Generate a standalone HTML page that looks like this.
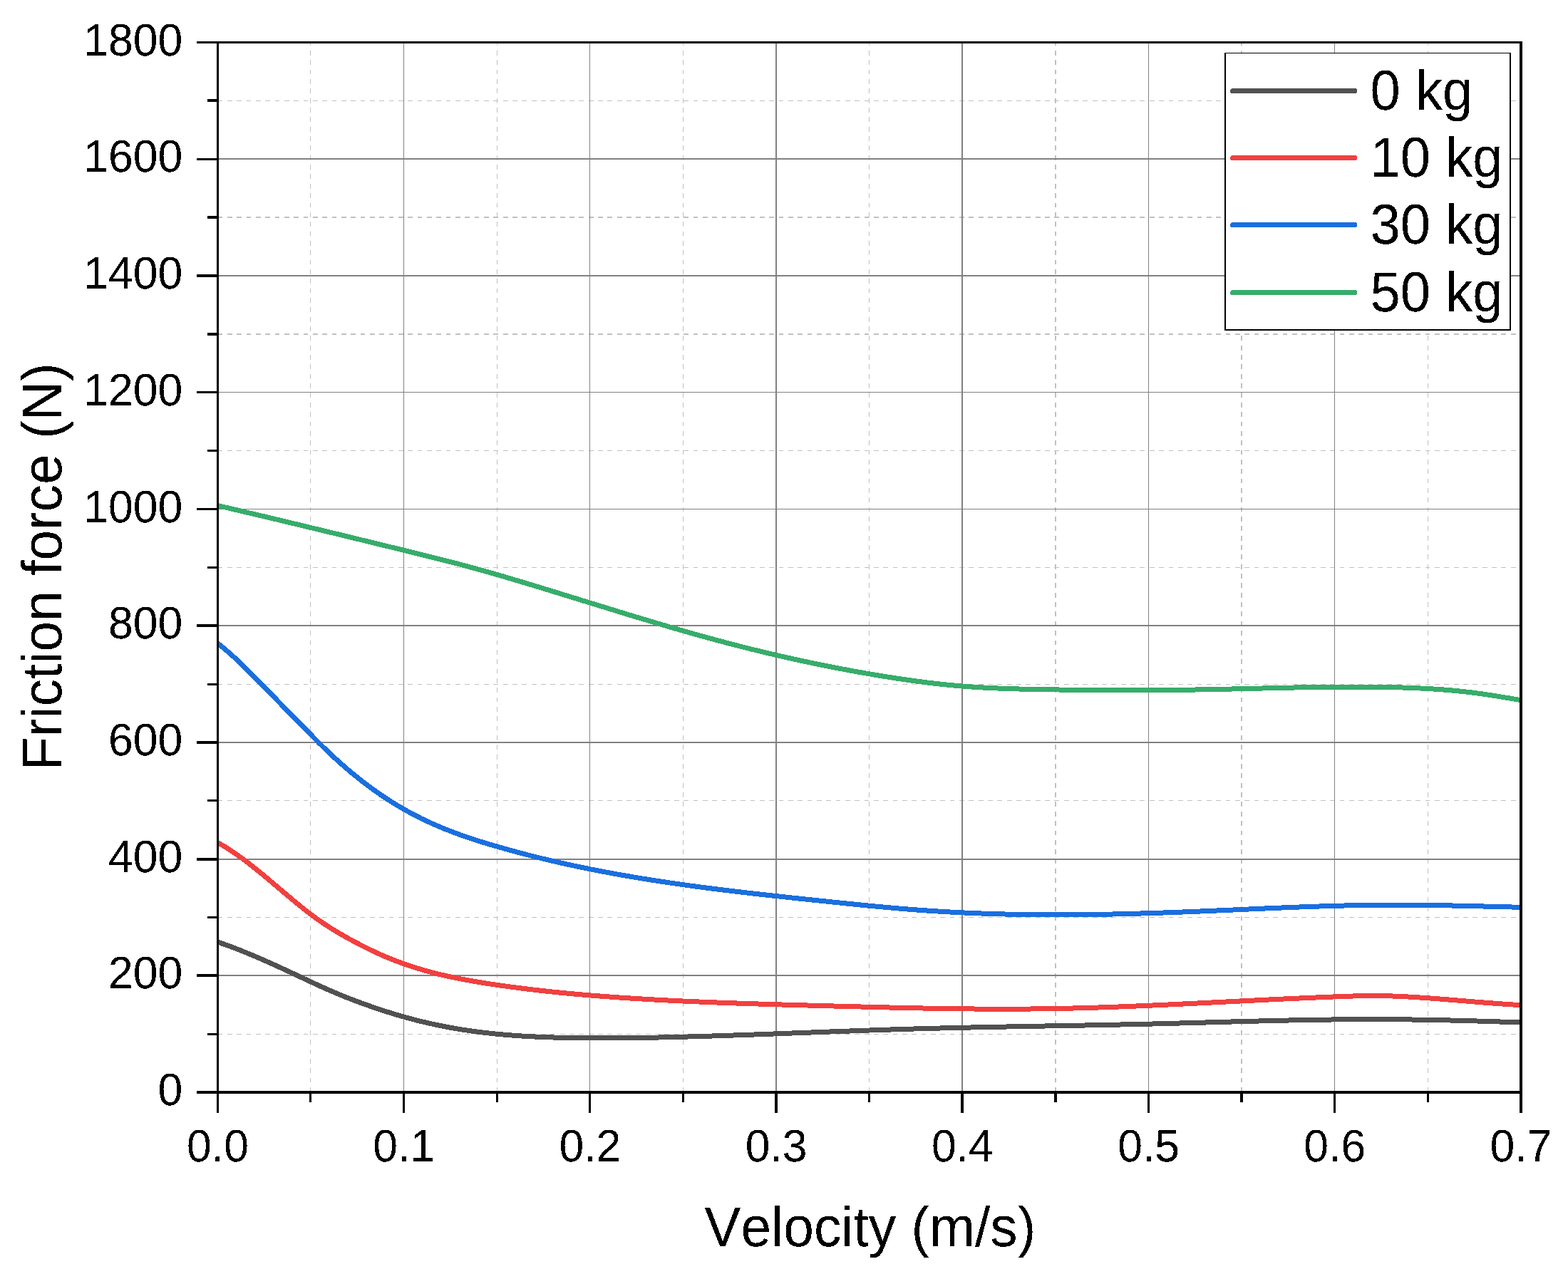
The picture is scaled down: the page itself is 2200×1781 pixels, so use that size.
<!DOCTYPE html>
<html lang="en"><head><meta charset="utf-8"><title>Friction force vs velocity</title>
<style>
html,body{margin:0;padding:0;background:#fff;}
body{width:2200px;height:1781px;}
svg{display:block;}
text{font-family:"Liberation Sans",Arial,Helvetica,sans-serif;fill:#000;font-kerning:none;font-variant-ligatures:none;text-rendering:geometricPrecision;}
.tick{font-size:62.5px;}
.title{font-size:76.8px;}
.leg{font-size:76px;}
</style></head><body>
<svg width="2200" height="1781" viewBox="0 0 2200 1781" role="img" aria-label="Friction force versus velocity for loads of 0, 10, 30 and 50 kg">
<rect x="0" y="0" width="2200" height="1781" fill="#fff"/>
<defs><clipPath id="plot"><rect x="307" y="61" width="1825" height="1470"/></clipPath><filter id="bin" x="-5%" y="-5%" width="110%" height="110%" color-interpolation-filters="sRGB"><feComponentTransfer><feFuncA type="discrete" tableValues="0 1"/></feComponentTransfer></filter></defs>
<g id="grid-minor" fill="none" stroke="#c0c0c0" stroke-dasharray="6.8 6.54" shape-rendering="crispEdges">
<line x1="435.5" y1="1532.7" x2="435.5" y2="59.5" stroke-width="1" stroke-dasharray="6.8 6.548"/>
<line x1="697.5" y1="1532.7" x2="697.5" y2="59.5" stroke-width="1" stroke-dasharray="6.8 6.548"/>
<line x1="958.5" y1="1532.7" x2="958.5" y2="59.5" stroke-width="1" stroke-dasharray="6.8 6.548"/>
<line x1="1219.5" y1="1532.7" x2="1219.5" y2="59.5" stroke-width="1" stroke-dasharray="6.8 6.548"/>
<line x1="1481.0" y1="1532.7" x2="1481.0" y2="59.5" stroke-width="2" stroke-dasharray="6.8 6.548"/>
<line x1="1742.0" y1="1532.7" x2="1742.0" y2="59.5" stroke-width="2" stroke-dasharray="6.8 6.548"/>
<line x1="2003.5" y1="1532.7" x2="2003.5" y2="59.5" stroke-width="1" stroke-dasharray="6.8 6.548"/>
<line x1="305.5" y1="1451.5" x2="2134" y2="1451.5" stroke-width="1"/>
<line x1="305.5" y1="1287.5" x2="2134" y2="1287.5" stroke-width="1"/>
<line x1="305.5" y1="1123.5" x2="2134" y2="1123.5" stroke-width="1"/>
<line x1="305.5" y1="960.5" x2="2134" y2="960.5" stroke-width="1"/>
<line x1="305.5" y1="796.5" x2="2134" y2="796.5" stroke-width="1"/>
<line x1="305.5" y1="632.5" x2="2134" y2="632.5" stroke-width="1"/>
<line x1="305.5" y1="469.0" x2="2134" y2="469.0" stroke-width="2"/>
<line x1="305.5" y1="305.0" x2="2134" y2="305.0" stroke-width="2"/>
<line x1="305.5" y1="141.5" x2="2134" y2="141.5" stroke-width="1"/>
</g>
<g id="grid-major" fill="#808080" shape-rendering="crispEdges">
<rect x="566" y="60" width="1" height="1472"/>
<rect x="827" y="60" width="1" height="1472"/>
<rect x="1088" y="60" width="2" height="1472"/>
<rect x="1349" y="60" width="2" height="1472"/>
<rect x="1611" y="60" width="1" height="1472"/>
<rect x="1872" y="60" width="1" height="1472"/>
<rect x="306" y="1368" width="1827" height="2"/>
<rect x="306" y="1205" width="1827" height="2"/>
<rect x="306" y="1041" width="1827" height="2"/>
<rect x="306" y="877" width="1827" height="2"/>
<rect x="306" y="714" width="1827" height="1"/>
<rect x="306" y="550" width="1827" height="1"/>
<rect x="306" y="386" width="1827" height="2"/>
<rect x="306" y="222" width="1827" height="2"/>
</g>
<g id="curves" fill="none" stroke-width="7" stroke-linejoin="round" stroke-linecap="butt" clip-path="url(#plot)" shape-rendering="crispEdges">
<path stroke="#515151" d="M305.50,1322.08 C310.94,1323.91 316.38,1325.84 321.83,1327.85 C327.27,1329.86 332.71,1331.95 338.15,1334.12 C343.59,1336.28 349.04,1338.52 354.48,1340.81 C359.92,1343.10 365.36,1345.45 370.80,1347.85 C376.25,1350.24 381.69,1352.68 387.13,1355.16 C392.57,1357.63 398.01,1360.14 403.46,1362.67 C408.90,1365.20 414.34,1367.74 419.78,1370.30 C425.22,1372.86 430.67,1375.42 436.11,1377.96 C441.55,1380.50 446.99,1383.01 452.43,1385.47 C457.88,1387.93 463.32,1390.34 468.76,1392.66 C474.20,1394.99 479.64,1397.22 485.08,1399.38 C490.53,1401.54 495.97,1403.62 501.41,1405.65 C506.85,1407.68 512.29,1409.65 517.74,1411.57 C523.18,1413.49 528.62,1415.35 534.06,1417.14 C539.50,1418.94 544.95,1420.68 550.39,1422.35 C555.83,1424.01 561.27,1425.62 566.71,1427.15 C572.16,1428.68 577.60,1430.14 583.04,1431.54 C588.48,1432.93 593.92,1434.26 599.37,1435.51 C604.81,1436.77 610.25,1437.96 615.69,1439.08 C621.13,1440.20 626.58,1441.26 632.02,1442.25 C637.46,1443.24 642.90,1444.16 648.34,1445.02 C653.79,1445.88 659.23,1446.68 664.67,1447.43 C670.11,1448.17 675.55,1448.86 681.00,1449.49 C686.44,1450.12 691.88,1450.70 697.32,1451.23 C702.76,1451.77 708.21,1452.25 713.65,1452.69 C719.09,1453.12 724.53,1453.52 729.97,1453.87 C735.42,1454.23 740.86,1454.54 746.30,1454.82 C751.74,1455.10 757.18,1455.34 762.62,1455.55 C768.07,1455.76 773.51,1455.94 778.95,1456.09 C784.39,1456.24 789.83,1456.37 795.28,1456.47 C800.72,1456.57 806.16,1456.65 811.60,1456.71 C817.04,1456.77 822.49,1456.81 827.93,1456.84 C833.37,1456.86 838.81,1456.88 844.25,1456.87 C849.70,1456.87 855.14,1456.86 860.58,1456.83 C866.02,1456.81 871.46,1456.77 876.91,1456.72 C882.35,1456.67 887.79,1456.60 893.23,1456.53 C898.67,1456.46 904.12,1456.37 909.56,1456.28 C915.00,1456.19 920.44,1456.08 925.88,1455.97 C931.33,1455.86 936.77,1455.74 942.21,1455.61 C947.65,1455.48 953.09,1455.34 958.54,1455.20 C963.98,1455.05 969.42,1454.90 974.86,1454.75 C980.30,1454.59 985.75,1454.43 991.19,1454.26 C996.63,1454.09 1002.07,1453.92 1007.51,1453.74 C1012.96,1453.56 1018.40,1453.38 1023.84,1453.19 C1029.28,1453.01 1034.72,1452.82 1040.17,1452.63 C1045.61,1452.44 1051.05,1452.24 1056.49,1452.05 C1061.93,1451.85 1067.38,1451.65 1072.82,1451.45 C1078.26,1451.25 1083.70,1451.05 1089.14,1450.85 C1094.58,1450.64 1100.03,1450.44 1105.47,1450.23 C1110.91,1450.03 1116.35,1449.82 1121.79,1449.61 C1127.24,1449.41 1132.68,1449.20 1138.12,1449.00 C1143.56,1448.79 1149.00,1448.59 1154.45,1448.38 C1159.89,1448.18 1165.33,1447.97 1170.77,1447.77 C1176.21,1447.57 1181.66,1447.37 1187.10,1447.17 C1192.54,1446.97 1197.98,1446.77 1203.42,1446.58 C1208.87,1446.38 1214.31,1446.19 1219.75,1446.00 C1225.19,1445.82 1230.63,1445.63 1236.08,1445.45 C1241.52,1445.27 1246.96,1445.09 1252.40,1444.91 C1257.84,1444.74 1263.29,1444.57 1268.73,1444.40 C1274.17,1444.24 1279.61,1444.08 1285.05,1443.92 C1290.50,1443.76 1295.94,1443.61 1301.38,1443.47 C1306.82,1443.32 1312.26,1443.18 1317.71,1443.04 C1323.15,1442.91 1328.59,1442.77 1334.03,1442.64 C1339.47,1442.51 1344.92,1442.39 1350.36,1442.27 C1355.80,1442.15 1361.24,1442.03 1366.68,1441.91 C1372.12,1441.80 1377.57,1441.68 1383.01,1441.57 C1388.45,1441.46 1393.89,1441.35 1399.33,1441.25 C1404.78,1441.14 1410.22,1441.04 1415.66,1440.94 C1421.10,1440.83 1426.54,1440.73 1431.99,1440.63 C1437.43,1440.53 1442.87,1440.44 1448.31,1440.34 C1453.75,1440.24 1459.20,1440.14 1464.64,1440.04 C1470.08,1439.95 1475.52,1439.85 1480.96,1439.75 C1486.41,1439.66 1491.85,1439.56 1497.29,1439.46 C1502.73,1439.36 1508.17,1439.26 1513.62,1439.16 C1519.06,1439.06 1524.50,1438.96 1529.94,1438.86 C1535.38,1438.75 1540.83,1438.65 1546.27,1438.54 C1551.71,1438.43 1557.15,1438.33 1562.59,1438.21 C1568.04,1438.10 1573.48,1437.99 1578.92,1437.87 C1584.36,1437.75 1589.80,1437.63 1595.25,1437.51 C1600.69,1437.39 1606.13,1437.26 1611.57,1437.13 C1617.01,1437.00 1622.46,1436.86 1627.90,1436.72 C1633.34,1436.59 1638.78,1436.44 1644.22,1436.30 C1649.67,1436.16 1655.11,1436.01 1660.55,1435.86 C1665.99,1435.72 1671.43,1435.57 1676.88,1435.42 C1682.32,1435.27 1687.76,1435.11 1693.20,1434.96 C1698.64,1434.81 1704.08,1434.66 1709.53,1434.51 C1714.97,1434.36 1720.41,1434.21 1725.85,1434.06 C1731.29,1433.91 1736.74,1433.76 1742.18,1433.62 C1747.62,1433.47 1753.06,1433.33 1758.50,1433.19 C1763.95,1433.05 1769.39,1432.91 1774.83,1432.78 C1780.27,1432.65 1785.71,1432.52 1791.16,1432.39 C1796.60,1432.27 1802.04,1432.15 1807.48,1432.03 C1812.92,1431.91 1818.37,1431.80 1823.81,1431.70 C1829.25,1431.60 1834.69,1431.50 1840.13,1431.41 C1845.58,1431.31 1851.02,1431.23 1856.46,1431.15 C1861.90,1431.07 1867.34,1431.00 1872.79,1430.94 C1878.23,1430.88 1883.67,1430.83 1889.11,1430.78 C1894.55,1430.74 1900.00,1430.70 1905.44,1430.68 C1910.88,1430.65 1916.32,1430.63 1921.76,1430.63 C1927.21,1430.62 1932.65,1430.63 1938.09,1430.65 C1943.53,1430.66 1948.97,1430.69 1954.42,1430.73 C1959.86,1430.77 1965.30,1430.82 1970.74,1430.88 C1976.18,1430.93 1981.62,1431.00 1987.07,1431.08 C1992.51,1431.16 1997.95,1431.25 2003.39,1431.35 C2008.83,1431.44 2014.28,1431.55 2019.72,1431.66 C2025.16,1431.78 2030.60,1431.90 2036.04,1432.03 C2041.49,1432.16 2046.93,1432.29 2052.37,1432.44 C2057.81,1432.58 2063.25,1432.73 2068.70,1432.89 C2074.14,1433.05 2079.58,1433.21 2085.02,1433.38 C2090.46,1433.55 2095.91,1433.72 2101.35,1433.90 C2106.79,1434.08 2112.23,1434.26 2117.67,1434.45 C2123.12,1434.64 2128.56,1434.84 2134.00,1435.03"/>
<path stroke="#F14040" d="M305.50,1182.55 C310.94,1185.50 316.38,1188.76 321.83,1192.28 C327.27,1195.80 332.71,1199.58 338.15,1203.55 C343.59,1207.52 349.04,1211.69 354.48,1215.99 C359.92,1220.30 365.36,1224.74 370.80,1229.26 C376.25,1233.78 381.69,1238.38 387.13,1242.99 C392.57,1247.61 398.01,1252.25 403.46,1256.84 C408.90,1261.44 414.34,1265.99 419.78,1270.43 C425.22,1274.86 430.67,1279.17 436.11,1283.28 C441.55,1287.39 446.99,1291.28 452.43,1294.96 C457.88,1298.64 463.32,1302.12 468.76,1305.45 C474.20,1308.77 479.64,1311.93 485.08,1314.97 C490.53,1318.02 495.97,1320.95 501.41,1323.80 C506.85,1326.65 512.29,1329.43 517.74,1332.10 C523.18,1334.77 528.62,1337.33 534.06,1339.76 C539.50,1342.18 544.95,1344.47 550.39,1346.64 C555.83,1348.80 561.27,1350.84 566.71,1352.76 C572.16,1354.68 577.60,1356.48 583.04,1358.18 C588.48,1359.88 593.92,1361.48 599.37,1362.98 C604.81,1364.48 610.25,1365.89 615.69,1367.21 C621.13,1368.54 626.58,1369.78 632.02,1370.96 C637.46,1372.13 642.90,1373.23 648.34,1374.28 C653.79,1375.32 659.23,1376.30 664.67,1377.24 C670.11,1378.18 675.55,1379.07 681.00,1379.92 C686.44,1380.77 691.88,1381.59 697.32,1382.38 C702.76,1383.17 708.21,1383.93 713.65,1384.67 C719.09,1385.41 724.53,1386.13 729.97,1386.82 C735.42,1387.51 740.86,1388.18 746.30,1388.83 C751.74,1389.48 757.18,1390.10 762.62,1390.70 C768.07,1391.30 773.51,1391.88 778.95,1392.44 C784.39,1393.00 789.83,1393.54 795.28,1394.05 C800.72,1394.57 806.16,1395.07 811.60,1395.55 C817.04,1396.03 822.49,1396.49 827.93,1396.94 C833.37,1397.38 838.81,1397.81 844.25,1398.23 C849.70,1398.64 855.14,1399.04 860.58,1399.42 C866.02,1399.80 871.46,1400.17 876.91,1400.53 C882.35,1400.89 887.79,1401.23 893.23,1401.56 C898.67,1401.89 904.12,1402.21 909.56,1402.52 C915.00,1402.83 920.44,1403.13 925.88,1403.42 C931.33,1403.71 936.77,1403.99 942.21,1404.26 C947.65,1404.52 953.09,1404.78 958.54,1405.04 C963.98,1405.29 969.42,1405.53 974.86,1405.76 C980.30,1406.00 985.75,1406.22 991.19,1406.44 C996.63,1406.66 1002.07,1406.88 1007.51,1407.08 C1012.96,1407.29 1018.40,1407.49 1023.84,1407.68 C1029.28,1407.87 1034.72,1408.06 1040.17,1408.24 C1045.61,1408.43 1051.05,1408.60 1056.49,1408.78 C1061.93,1408.95 1067.38,1409.12 1072.82,1409.29 C1078.26,1409.45 1083.70,1409.61 1089.14,1409.77 C1094.58,1409.93 1100.03,1410.09 1105.47,1410.24 C1110.91,1410.39 1116.35,1410.55 1121.79,1410.70 C1127.24,1410.85 1132.68,1411.00 1138.12,1411.14 C1143.56,1411.29 1149.00,1411.44 1154.45,1411.59 C1159.89,1411.74 1165.33,1411.88 1170.77,1412.03 C1176.21,1412.18 1181.66,1412.33 1187.10,1412.47 C1192.54,1412.62 1197.98,1412.76 1203.42,1412.90 C1208.87,1413.04 1214.31,1413.19 1219.75,1413.32 C1225.19,1413.46 1230.63,1413.60 1236.08,1413.73 C1241.52,1413.86 1246.96,1413.99 1252.40,1414.12 C1257.84,1414.24 1263.29,1414.37 1268.73,1414.48 C1274.17,1414.60 1279.61,1414.72 1285.05,1414.82 C1290.50,1414.93 1295.94,1415.04 1301.38,1415.13 C1306.82,1415.23 1312.26,1415.33 1317.71,1415.41 C1323.15,1415.50 1328.59,1415.58 1334.03,1415.65 C1339.47,1415.73 1344.92,1415.79 1350.36,1415.85 C1355.80,1415.91 1361.24,1415.96 1366.68,1416.01 C1372.12,1416.05 1377.57,1416.09 1383.01,1416.12 C1388.45,1416.14 1393.89,1416.16 1399.33,1416.17 C1404.78,1416.18 1410.22,1416.18 1415.66,1416.17 C1421.10,1416.16 1426.54,1416.14 1431.99,1416.11 C1437.43,1416.08 1442.87,1416.04 1448.31,1415.99 C1453.75,1415.94 1459.20,1415.88 1464.64,1415.80 C1470.08,1415.73 1475.52,1415.64 1480.96,1415.54 C1486.41,1415.44 1491.85,1415.33 1497.29,1415.21 C1502.73,1415.09 1508.17,1414.95 1513.62,1414.81 C1519.06,1414.67 1524.50,1414.51 1529.94,1414.35 C1535.38,1414.18 1540.83,1414.01 1546.27,1413.82 C1551.71,1413.64 1557.15,1413.45 1562.59,1413.25 C1568.04,1413.05 1573.48,1412.84 1578.92,1412.62 C1584.36,1412.41 1589.80,1412.18 1595.25,1411.96 C1600.69,1411.73 1606.13,1411.49 1611.57,1411.25 C1617.01,1411.01 1622.46,1410.76 1627.90,1410.51 C1633.34,1410.26 1638.78,1410.01 1644.22,1409.75 C1649.67,1409.49 1655.11,1409.23 1660.55,1408.96 C1665.99,1408.70 1671.43,1408.43 1676.88,1408.16 C1682.32,1407.89 1687.76,1407.61 1693.20,1407.34 C1698.64,1407.07 1704.08,1406.79 1709.53,1406.52 C1714.97,1406.24 1720.41,1405.97 1725.85,1405.69 C1731.29,1405.42 1736.74,1405.15 1742.18,1404.87 C1747.62,1404.60 1753.06,1404.33 1758.50,1404.06 C1763.95,1403.79 1769.39,1403.53 1774.83,1403.26 C1780.27,1403.00 1785.71,1402.74 1791.16,1402.48 C1796.60,1402.22 1802.04,1401.96 1807.48,1401.71 C1812.92,1401.46 1818.37,1401.21 1823.81,1400.97 C1829.25,1400.72 1834.69,1400.48 1840.13,1400.25 C1845.58,1400.01 1851.02,1399.78 1856.46,1399.55 C1861.90,1399.33 1867.34,1399.11 1872.79,1398.89 C1878.23,1398.68 1883.67,1398.47 1889.11,1398.28 C1894.55,1398.09 1900.00,1397.93 1905.44,1397.80 C1910.88,1397.67 1916.32,1397.58 1921.76,1397.55 C1927.21,1397.51 1932.65,1397.53 1938.09,1397.62 C1943.53,1397.70 1948.97,1397.84 1954.42,1398.03 C1959.86,1398.22 1965.30,1398.45 1970.74,1398.73 C1976.18,1399.00 1981.62,1399.32 1987.07,1399.66 C1992.51,1400.00 1997.95,1400.37 2003.39,1400.76 C2008.83,1401.15 2014.28,1401.56 2019.72,1401.98 C2025.16,1402.40 2030.60,1402.84 2036.04,1403.28 C2041.49,1403.72 2046.93,1404.17 2052.37,1404.62 C2057.81,1405.07 2063.25,1405.52 2068.70,1405.96 C2074.14,1406.41 2079.58,1406.85 2085.02,1407.28 C2090.46,1407.71 2095.91,1408.13 2101.35,1408.53 C2106.79,1408.93 2112.23,1409.31 2117.67,1409.68 C2123.12,1410.04 2128.56,1410.38 2134.00,1410.69"/>
<path stroke="#1A6FDF" d="M305.50,902.98 C310.94,907.10 316.38,911.62 321.83,916.41 C327.27,921.21 332.71,926.28 338.15,931.54 C343.59,936.80 349.04,942.23 354.48,947.74 C359.92,953.25 365.36,958.82 370.80,964.37 C376.25,969.93 381.69,975.48 387.13,981.03 C392.57,986.58 398.01,992.13 403.46,997.67 C408.90,1003.22 414.34,1008.77 419.78,1014.33 C425.22,1019.88 430.67,1025.44 436.11,1031.00 C441.55,1036.56 446.99,1042.11 452.43,1047.45 C457.88,1052.80 463.32,1057.97 468.76,1062.99 C474.20,1068.00 479.64,1072.85 485.08,1077.53 C490.53,1082.22 495.97,1086.74 501.41,1091.10 C506.85,1095.47 512.29,1099.67 517.74,1103.71 C523.18,1107.75 528.62,1111.63 534.06,1115.35 C539.50,1119.08 544.95,1122.64 550.39,1126.05 C555.83,1129.46 561.27,1132.72 566.71,1135.81 C572.16,1138.91 577.60,1141.86 583.04,1144.66 C588.48,1147.46 593.92,1150.13 599.37,1152.67 C604.81,1155.20 610.25,1157.62 615.69,1159.92 C621.13,1162.23 626.58,1164.42 632.02,1166.52 C637.46,1168.62 642.90,1170.62 648.34,1172.54 C653.79,1174.47 659.23,1176.31 664.67,1178.09 C670.11,1179.87 675.55,1181.58 681.00,1183.24 C686.44,1184.91 691.88,1186.52 697.32,1188.09 C702.76,1189.67 708.21,1191.21 713.65,1192.72 C719.09,1194.23 724.53,1195.70 729.97,1197.14 C735.42,1198.58 740.86,1199.99 746.30,1201.36 C751.74,1202.74 757.18,1204.08 762.62,1205.39 C768.07,1206.71 773.51,1207.99 778.95,1209.24 C784.39,1210.50 789.83,1211.72 795.28,1212.92 C800.72,1214.12 806.16,1215.28 811.60,1216.43 C817.04,1217.57 822.49,1218.68 827.93,1219.77 C833.37,1220.86 838.81,1221.93 844.25,1222.97 C849.70,1224.01 855.14,1225.02 860.58,1226.01 C866.02,1227.01 871.46,1227.98 876.91,1228.92 C882.35,1229.87 887.79,1230.80 893.23,1231.70 C898.67,1232.61 904.12,1233.50 909.56,1234.36 C915.00,1235.23 920.44,1236.08 925.88,1236.90 C931.33,1237.73 936.77,1238.54 942.21,1239.34 C947.65,1240.13 953.09,1240.91 958.54,1241.67 C963.98,1242.43 969.42,1243.18 974.86,1243.91 C980.30,1244.64 985.75,1245.36 991.19,1246.07 C996.63,1246.77 1002.07,1247.46 1007.51,1248.14 C1012.96,1248.83 1018.40,1249.49 1023.84,1250.15 C1029.28,1250.81 1034.72,1251.46 1040.17,1252.10 C1045.61,1252.73 1051.05,1253.36 1056.49,1253.98 C1061.93,1254.60 1067.38,1255.22 1072.82,1255.82 C1078.26,1256.43 1083.70,1257.03 1089.14,1257.62 C1094.58,1258.22 1100.03,1258.80 1105.47,1259.39 C1110.91,1259.97 1116.35,1260.55 1121.79,1261.13 C1127.24,1261.71 1132.68,1262.28 1138.12,1262.85 C1143.56,1263.42 1149.00,1263.99 1154.45,1264.56 C1159.89,1265.13 1165.33,1265.70 1170.77,1266.27 C1176.21,1266.83 1181.66,1267.40 1187.10,1267.96 C1192.54,1268.51 1197.98,1269.07 1203.42,1269.61 C1208.87,1270.16 1214.31,1270.69 1219.75,1271.22 C1225.19,1271.75 1230.63,1272.26 1236.08,1272.77 C1241.52,1273.27 1246.96,1273.77 1252.40,1274.24 C1257.84,1274.72 1263.29,1275.18 1268.73,1275.63 C1274.17,1276.07 1279.61,1276.50 1285.05,1276.91 C1290.50,1277.32 1295.94,1277.71 1301.38,1278.07 C1306.82,1278.44 1312.26,1278.79 1317.71,1279.13 C1323.15,1279.46 1328.59,1279.77 1334.03,1280.06 C1339.47,1280.36 1344.92,1280.63 1350.36,1280.89 C1355.80,1281.15 1361.24,1281.39 1366.68,1281.61 C1372.12,1281.83 1377.57,1282.04 1383.01,1282.23 C1388.45,1282.42 1393.89,1282.59 1399.33,1282.74 C1404.78,1282.89 1410.22,1283.03 1415.66,1283.15 C1421.10,1283.27 1426.54,1283.38 1431.99,1283.47 C1437.43,1283.56 1442.87,1283.63 1448.31,1283.69 C1453.75,1283.75 1459.20,1283.79 1464.64,1283.82 C1470.08,1283.85 1475.52,1283.87 1480.96,1283.87 C1486.41,1283.87 1491.85,1283.86 1497.29,1283.84 C1502.73,1283.81 1508.17,1283.78 1513.62,1283.73 C1519.06,1283.68 1524.50,1283.62 1529.94,1283.54 C1535.38,1283.47 1540.83,1283.39 1546.27,1283.29 C1551.71,1283.20 1557.15,1283.09 1562.59,1282.98 C1568.04,1282.86 1573.48,1282.73 1578.92,1282.60 C1584.36,1282.46 1589.80,1282.32 1595.25,1282.17 C1600.69,1282.01 1606.13,1281.85 1611.57,1281.68 C1617.01,1281.51 1622.46,1281.33 1627.90,1281.15 C1633.34,1280.96 1638.78,1280.77 1644.22,1280.57 C1649.67,1280.37 1655.11,1280.16 1660.55,1279.95 C1665.99,1279.74 1671.43,1279.52 1676.88,1279.29 C1682.32,1279.07 1687.76,1278.84 1693.20,1278.61 C1698.64,1278.38 1704.08,1278.14 1709.53,1277.90 C1714.97,1277.66 1720.41,1277.42 1725.85,1277.17 C1731.29,1276.93 1736.74,1276.69 1742.18,1276.44 C1747.62,1276.20 1753.06,1275.96 1758.50,1275.71 C1763.95,1275.47 1769.39,1275.23 1774.83,1274.99 C1780.27,1274.76 1785.71,1274.52 1791.16,1274.29 C1796.60,1274.06 1802.04,1273.84 1807.48,1273.62 C1812.92,1273.40 1818.37,1273.18 1823.81,1272.98 C1829.25,1272.77 1834.69,1272.57 1840.13,1272.38 C1845.58,1272.19 1851.02,1272.01 1856.46,1271.83 C1861.90,1271.66 1867.34,1271.50 1872.79,1271.35 C1878.23,1271.20 1883.67,1271.06 1889.11,1270.93 C1894.55,1270.81 1900.00,1270.69 1905.44,1270.59 C1910.88,1270.49 1916.32,1270.41 1921.76,1270.34 C1927.21,1270.27 1932.65,1270.21 1938.09,1270.17 C1943.53,1270.14 1948.97,1270.12 1954.42,1270.11 C1959.86,1270.11 1965.30,1270.12 1970.74,1270.14 C1976.18,1270.16 1981.62,1270.20 1987.07,1270.25 C1992.51,1270.30 1997.95,1270.36 2003.39,1270.43 C2008.83,1270.51 2014.28,1270.59 2019.72,1270.68 C2025.16,1270.77 2030.60,1270.87 2036.04,1270.98 C2041.49,1271.08 2046.93,1271.20 2052.37,1271.32 C2057.81,1271.44 2063.25,1271.56 2068.70,1271.69 C2074.14,1271.82 2079.58,1271.95 2085.02,1272.09 C2090.46,1272.22 2095.91,1272.36 2101.35,1272.50 C2106.79,1272.64 2112.23,1272.78 2117.67,1272.91 C2123.12,1273.05 2128.56,1273.19 2134.00,1273.32"/>
<path stroke="#37AD6B" d="M305.50,709.54 C310.94,710.81 316.38,712.08 321.83,713.36 C327.27,714.63 332.71,715.91 338.15,717.19 C343.59,718.47 349.04,719.76 354.48,721.05 C359.92,722.33 365.36,723.62 370.80,724.92 C376.25,726.21 381.69,727.51 387.13,728.80 C392.57,730.10 398.01,731.40 403.46,732.71 C408.90,734.01 414.34,735.32 419.78,736.63 C425.22,737.93 430.67,739.24 436.11,740.56 C441.55,741.87 446.99,743.18 452.43,744.50 C457.88,745.81 463.32,747.13 468.76,748.45 C474.20,749.77 479.64,751.09 485.08,752.42 C490.53,753.74 495.97,755.06 501.41,756.39 C506.85,757.71 512.29,759.04 517.74,760.37 C523.18,761.69 528.62,763.02 534.06,764.35 C539.50,765.68 544.95,767.01 550.39,768.34 C555.83,769.68 561.27,771.01 566.71,772.34 C572.16,773.67 577.60,775.01 583.04,776.34 C588.48,777.68 593.92,779.02 599.37,780.37 C604.81,781.73 610.25,783.09 615.69,784.46 C621.13,785.83 626.58,787.22 632.02,788.62 C637.46,790.02 642.90,791.45 648.34,792.89 C653.79,794.33 659.23,795.79 664.67,797.28 C670.11,798.77 675.55,800.28 681.00,801.82 C686.44,803.35 691.88,804.90 697.32,806.48 C702.76,808.05 708.21,809.64 713.65,811.24 C719.09,812.85 724.53,814.47 729.97,816.10 C735.42,817.73 740.86,819.37 746.30,821.02 C751.74,822.67 757.18,824.33 762.62,826.00 C768.07,827.66 773.51,829.33 778.95,831.00 C784.39,832.67 789.83,834.35 795.28,836.03 C800.72,837.71 806.16,839.39 811.60,841.07 C817.04,842.75 822.49,844.43 827.93,846.11 C833.37,847.79 838.81,849.47 844.25,851.14 C849.70,852.82 855.14,854.49 860.58,856.16 C866.02,857.83 871.46,859.50 876.91,861.16 C882.35,862.81 887.79,864.47 893.23,866.11 C898.67,867.76 904.12,869.40 909.56,871.02 C915.00,872.65 920.44,874.27 925.88,875.88 C931.33,877.49 936.77,879.09 942.21,880.67 C947.65,882.26 953.09,883.83 958.54,885.39 C963.98,886.95 969.42,888.50 974.86,890.03 C980.30,891.56 985.75,893.07 991.19,894.57 C996.63,896.07 1002.07,897.55 1007.51,899.01 C1012.96,900.48 1018.40,901.92 1023.84,903.34 C1029.28,904.77 1034.72,906.17 1040.17,907.55 C1045.61,908.93 1051.05,910.30 1056.49,911.64 C1061.93,912.98 1067.38,914.30 1072.82,915.61 C1078.26,916.91 1083.70,918.19 1089.14,919.45 C1094.58,920.71 1100.03,921.95 1105.47,923.17 C1110.91,924.39 1116.35,925.60 1121.79,926.78 C1127.24,927.96 1132.68,929.12 1138.12,930.26 C1143.56,931.40 1149.00,932.52 1154.45,933.62 C1159.89,934.71 1165.33,935.79 1170.77,936.85 C1176.21,937.91 1181.66,938.95 1187.10,939.97 C1192.54,940.99 1197.98,941.98 1203.42,942.96 C1208.87,943.94 1214.31,944.90 1219.75,945.83 C1225.19,946.77 1230.63,947.69 1236.08,948.58 C1241.52,949.48 1246.96,950.35 1252.40,951.19 C1257.84,952.04 1263.29,952.86 1268.73,953.65 C1274.17,954.44 1279.61,955.20 1285.05,955.93 C1290.50,956.66 1295.94,957.36 1301.38,958.03 C1306.82,958.70 1312.26,959.33 1317.71,959.93 C1323.15,960.52 1328.59,961.08 1334.03,961.60 C1339.47,962.12 1344.92,962.60 1350.36,963.04 C1355.80,963.48 1361.24,963.88 1366.68,964.24 C1372.12,964.60 1377.57,964.92 1383.01,965.21 C1388.45,965.50 1393.89,965.76 1399.33,965.99 C1404.78,966.22 1410.22,966.42 1415.66,966.60 C1421.10,966.78 1426.54,966.94 1431.99,967.07 C1437.43,967.21 1442.87,967.33 1448.31,967.44 C1453.75,967.54 1459.20,967.64 1464.64,967.72 C1470.08,967.80 1475.52,967.88 1480.96,967.95 C1486.41,968.02 1491.85,968.08 1497.29,968.14 C1502.73,968.21 1508.17,968.26 1513.62,968.31 C1519.06,968.37 1524.50,968.41 1529.94,968.45 C1535.38,968.50 1540.83,968.53 1546.27,968.56 C1551.71,968.59 1557.15,968.62 1562.59,968.64 C1568.04,968.66 1573.48,968.67 1578.92,968.68 C1584.36,968.68 1589.80,968.68 1595.25,968.68 C1600.69,968.67 1606.13,968.65 1611.57,968.63 C1617.01,968.61 1622.46,968.58 1627.90,968.55 C1633.34,968.51 1638.78,968.47 1644.22,968.42 C1649.67,968.37 1655.11,968.31 1660.55,968.24 C1665.99,968.17 1671.43,968.10 1676.88,968.01 C1682.32,967.93 1687.76,967.83 1693.20,967.73 C1698.64,967.63 1704.08,967.52 1709.53,967.41 C1714.97,967.30 1720.41,967.18 1725.85,967.06 C1731.29,966.94 1736.74,966.81 1742.18,966.68 C1747.62,966.56 1753.06,966.43 1758.50,966.30 C1763.95,966.17 1769.39,966.04 1774.83,965.92 C1780.27,965.79 1785.71,965.66 1791.16,965.54 C1796.60,965.42 1802.04,965.30 1807.48,965.19 C1812.92,965.07 1818.37,964.96 1823.81,964.86 C1829.25,964.76 1834.69,964.67 1840.13,964.58 C1845.58,964.49 1851.02,964.42 1856.46,964.35 C1861.90,964.28 1867.34,964.23 1872.79,964.18 C1878.23,964.14 1883.67,964.10 1889.11,964.08 C1894.55,964.07 1900.00,964.06 1905.44,964.07 C1910.88,964.08 1916.32,964.11 1921.76,964.15 C1927.21,964.20 1932.65,964.26 1938.09,964.34 C1943.53,964.42 1948.97,964.52 1954.42,964.64 C1959.86,964.76 1965.30,964.91 1970.74,965.08 C1976.18,965.26 1981.62,965.46 1987.07,965.70 C1992.51,965.94 1997.95,966.21 2003.39,966.52 C2008.83,966.83 2014.28,967.18 2019.72,967.58 C2025.16,967.97 2030.60,968.40 2036.04,968.89 C2041.49,969.37 2046.93,969.91 2052.37,970.50 C2057.81,971.08 2063.25,971.72 2068.70,972.42 C2074.14,973.12 2079.58,973.88 2085.02,974.68 C2090.46,975.48 2095.91,976.33 2101.35,977.20 C2106.79,978.08 2112.23,978.98 2117.67,979.91 C2123.12,980.83 2128.56,981.77 2134.00,982.71"/>
</g>
<g id="axes" fill="#000" shape-rendering="crispEdges">
<rect x="304" y="58" width="3" height="1504"/>
<rect x="2132" y="58" width="4" height="1504"/>
<rect x="276" y="58" width="1860" height="3"/>
<rect x="276" y="1531" width="1860" height="4"/>
</g>
<g id="ticks" fill="#000" shape-rendering="crispEdges">
<rect x="291" y="1450" width="14" height="3"/>
<rect x="276" y="1367" width="29" height="4"/>
<rect x="291" y="1286" width="14" height="3"/>
<rect x="276" y="1204" width="29" height="4"/>
<rect x="291" y="1122" width="14" height="3"/>
<rect x="276" y="1040" width="29" height="4"/>
<rect x="291" y="959" width="14" height="3"/>
<rect x="276" y="876" width="29" height="4"/>
<rect x="291" y="795" width="14" height="3"/>
<rect x="276" y="713" width="29" height="3"/>
<rect x="291" y="631" width="14" height="3"/>
<rect x="276" y="549" width="29" height="3"/>
<rect x="291" y="467" width="14" height="4"/>
<rect x="276" y="385" width="29" height="4"/>
<rect x="291" y="303" width="14" height="4"/>
<rect x="276" y="222" width="29" height="3"/>
<rect x="291" y="139" width="14" height="4"/>
<rect x="434" y="1533" width="3" height="14"/>
<rect x="565" y="1533" width="3" height="29"/>
<rect x="696" y="1533" width="3" height="14"/>
<rect x="826" y="1533" width="3" height="29"/>
<rect x="957" y="1533" width="3" height="14"/>
<rect x="1087" y="1533" width="4" height="29"/>
<rect x="1218" y="1533" width="3" height="14"/>
<rect x="1348" y="1533" width="4" height="29"/>
<rect x="1479" y="1533" width="4" height="14"/>
<rect x="1610" y="1533" width="3" height="29"/>
<rect x="1740" y="1533" width="4" height="14"/>
<rect x="1871" y="1533" width="3" height="29"/>
<rect x="2002" y="1533" width="3" height="14"/>
</g>
<g id="labels" filter="url(#bin)">
<g id="ylabels">
<text class="tick" transform="translate(256.30,1551.20) scale(1,1.02)" text-anchor="end">0</text>
<text class="tick" transform="translate(256.30,1387.48) scale(1,1.02)" text-anchor="end">200</text>
<text class="tick" transform="translate(256.30,1223.76) scale(1,1.02)" text-anchor="end">400</text>
<text class="tick" transform="translate(256.30,1060.03) scale(1,1.02)" text-anchor="end">600</text>
<text class="tick" transform="translate(256.30,896.31) scale(1,1.02)" text-anchor="end">800</text>
<text class="tick" transform="translate(256.30,732.59) scale(1,1.02)" text-anchor="end">1000</text>
<text class="tick" transform="translate(256.30,568.87) scale(1,1.02)" text-anchor="end">1200</text>
<text class="tick" transform="translate(256.30,405.14) scale(1,1.02)" text-anchor="end">1400</text>
<text class="tick" transform="translate(256.30,241.42) scale(1,1.02)" text-anchor="end">1600</text>
<text class="tick" transform="translate(256.30,77.70) scale(1,1.02)" text-anchor="end">1800</text>
</g>
<g id="xlabels">
<text class="tick" transform="translate(305.50,1630.30) scale(1,1.02)" text-anchor="middle">0.0</text>
<text class="tick" transform="translate(566.71,1630.30) scale(1,1.02)" text-anchor="middle">0.1</text>
<text class="tick" transform="translate(827.93,1630.30) scale(1,1.02)" text-anchor="middle">0.2</text>
<text class="tick" transform="translate(1089.14,1630.30) scale(1,1.02)" text-anchor="middle">0.3</text>
<text class="tick" transform="translate(1350.36,1630.30) scale(1,1.02)" text-anchor="middle">0.4</text>
<text class="tick" transform="translate(1611.57,1630.30) scale(1,1.02)" text-anchor="middle">0.5</text>
<text class="tick" transform="translate(1872.79,1630.30) scale(1,1.02)" text-anchor="middle">0.6</text>
<text class="tick" transform="translate(2134.00,1630.30) scale(1,1.02)" text-anchor="middle">0.7</text>
</g>
<text class="title" transform="translate(1220.80,1748.60) scale(1,1.03)" text-anchor="middle">Velocity (m/s)</text>
<text class="title" transform="translate(86.30,795.20) rotate(-90) scale(1,1.03)" text-anchor="middle">Friction force (N)</text>
</g>
<g id="legend">
<g shape-rendering="crispEdges">
<rect x="1718" y="74" width="402" height="390" fill="#000"/>
<rect x="1720" y="75" width="398" height="387" fill="#fff"/>
</g>
<line x1="1729.5" y1="127.5" x2="1900.7" y2="127.5" stroke="#515151" stroke-width="7" stroke-linecap="round" shape-rendering="crispEdges"/>
<line x1="1729.5" y1="221.5" x2="1900.7" y2="221.5" stroke="#F14040" stroke-width="7" stroke-linecap="round" shape-rendering="crispEdges"/>
<line x1="1729.5" y1="315.5" x2="1900.7" y2="315.5" stroke="#1A6FDF" stroke-width="7" stroke-linecap="round" shape-rendering="crispEdges"/>
<line x1="1729.5" y1="410.5" x2="1900.7" y2="410.5" stroke="#37AD6B" stroke-width="7" stroke-linecap="round" shape-rendering="crispEdges"/>
<g id="legend-labels" filter="url(#bin)">
<text class="leg" transform="translate(1922.50,154.00) scale(1,1.045)" text-anchor="start">0 kg</text>
<text class="leg" transform="translate(1922.50,248.20) scale(1,1.045)" text-anchor="start">10 kg</text>
<text class="leg" transform="translate(1922.50,342.40) scale(1,1.045)" text-anchor="start">30 kg</text>
<text class="leg" transform="translate(1922.50,436.60) scale(1,1.045)" text-anchor="start">50 kg</text>
</g>
</g>
</svg>
</body></html>
